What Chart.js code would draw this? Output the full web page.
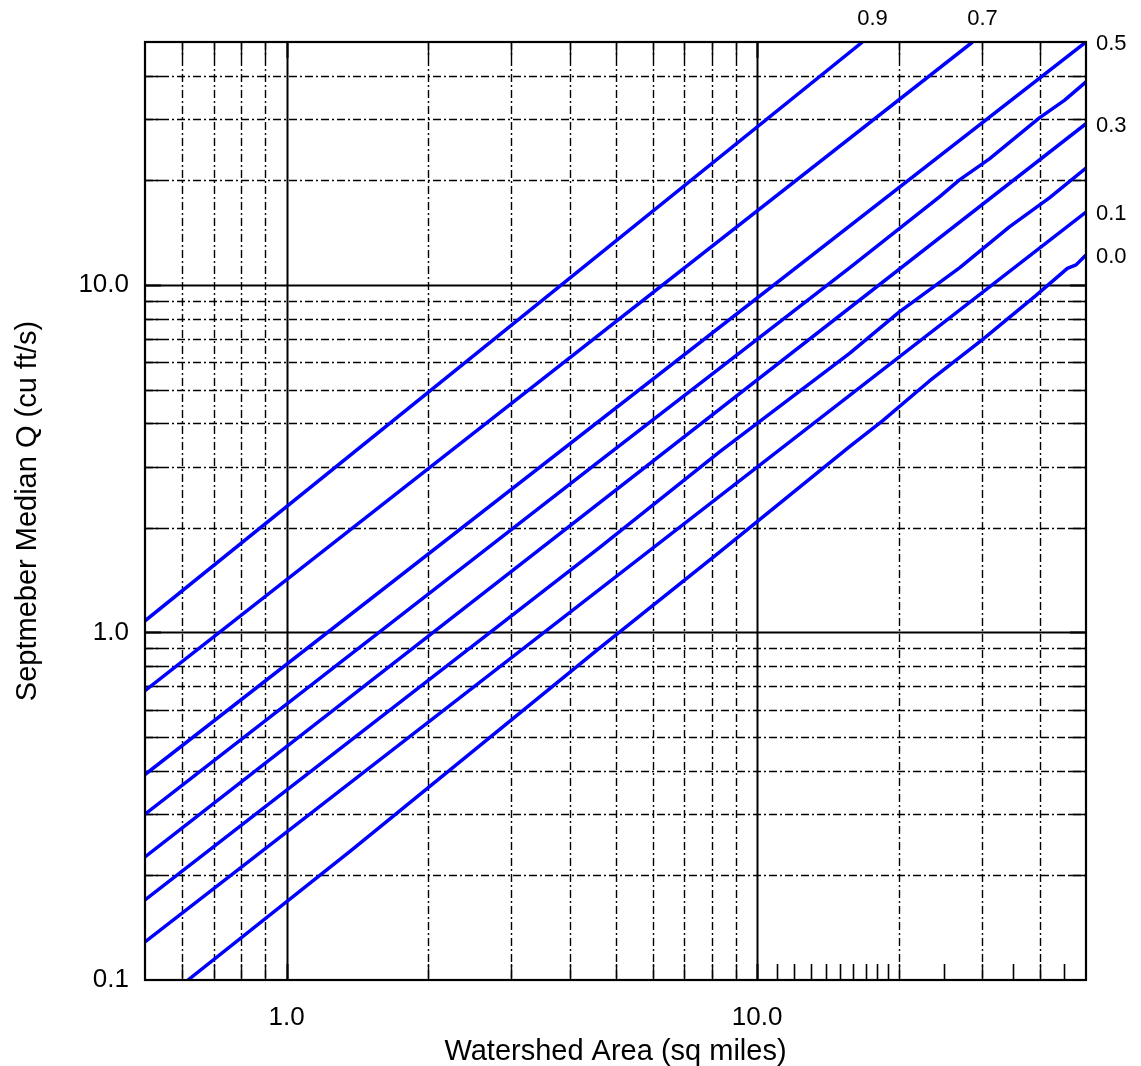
<!DOCTYPE html>
<html>
<head>
<meta charset="utf-8">
<script src="https://cdn.jsdelivr.net/npm/chart.js@4.4.1/dist/chart.umd.min.js"></script>
<style>
html,body{margin:0;padding:0;background:#fff;}
#wrap{width:1141px;height:1066px;position:relative;}
</style>
</head>
<body>
<div id="wrap"><canvas id="chart"></canvas></div>
<script>
// curves, [area sq mi, Q cu ft/s]
const curve09 = [[0.5, 1.08], [16.75, 50]];
const curve07 = [[0.5, 0.68], [28.7, 50]];
const curve05 = [[0.5, 0.39], [50, 50]];
const curve04 = [[0.5, 0.300], [4.63, 3.115], [8.32, 5.75], [15.72, 11.19], [24.41, 17.92],
	[26.92, 20.05], [31.17, 23.05], [39.8, 30.24], [44.98, 33.95], [50, 38.4]];
const curve03 = [[0.5, 0.226], [50, 29.1]];
const curve02 = [[0.5, 0.170], [4.63, 1.756], [8.32, 3.307], [15.72, 6.353], [20.06, 8.36],
	[26.92, 11.19], [34.37, 14.69], [41.8, 17.8], [50, 21.7]];
const curve01 = [[0.5, 0.1287], [50, 16.2]];
const curve00 = [[0.617, 0.1], [1.374, 0.2366], [4.63, 0.9024], [8.32, 1.704], [15.72, 3.425],
	[18.47, 4.061], [23.24, 5.292], [30.17, 6.97], [39.16, 9.328], [45.64, 11.156],
	[47.62, 11.42], [50, 12.2]];

const curves = [curve09, curve07, curve05, curve04, curve03, curve02, curve01, curve00];
const curveLabels = ['0.9', '0.7', '0.5', '', '0.3', '', '0.1', '0.0'];

// axes
const xMin = 0.5, xMax = 50, yMin = 0.1, yMax = 50;
const xLabelVals = [1, 10];
const yLabelVals = [0.1, 1, 10];
const xGridVals = [0.6, 0.7, 0.8, 0.9, 1, 2, 3, 4, 5, 6, 7, 8, 9, 10, 20, 30, 40];
const yGridVals = [0.2, 0.3, 0.4, 0.5, 0.6, 0.7, 0.8, 0.9, 1, 2, 3, 4, 5, 6, 7, 8, 9, 10, 20, 30, 40];
const decadeVals = [0.1, 1, 10];
const xMinorTicks = [11, 12, 13, 14, 15, 16, 17, 18, 19, 25, 35, 45];

const FONT = "'Liberation Sans', Arial, Helvetica, sans-serif";

let gridPlugin = {
	id: 'gridFrame',
	beforeDatasetsDraw(chart) {
		let ctx = chart.ctx, a = chart.chartArea;
		let xs = chart.scales.x, ys = chart.scales.y;
		let tl = 16;
		ctx.save();
		ctx.strokeStyle = '#000';
		// vertical grid lines
		xGridVals.forEach(function (v) {
			let px = Math.round(xs.getPixelForValue(v)) + 0.5;
			let major = decadeVals.indexOf(v) >= 0;
			ctx.lineWidth = major ? 2 : 1.4;
			ctx.setLineDash(major ? [] : [8, 3, 2, 3]);
			ctx.beginPath(); ctx.moveTo(px, a.top); ctx.lineTo(px, a.bottom); ctx.stroke();
			ctx.setLineDash([]);
			ctx.beginPath();
			ctx.moveTo(px, a.bottom); ctx.lineTo(px, a.bottom - tl);
			ctx.moveTo(px, a.top); ctx.lineTo(px, a.top + tl);
			ctx.stroke();
		});
		// horizontal grid lines
		yGridVals.forEach(function (v) {
			let py = Math.round(ys.getPixelForValue(v)) + 0.5;
			let major = decadeVals.indexOf(v) >= 0;
			ctx.lineWidth = major ? 2 : 1.4;
			ctx.setLineDash(major ? [] : [8, 3, 2, 3]);
			ctx.beginPath(); ctx.moveTo(a.left, py); ctx.lineTo(a.right, py); ctx.stroke();
			ctx.setLineDash([]);
			ctx.beginPath();
			ctx.moveTo(a.left, py); ctx.lineTo(a.left + tl, py);
			ctx.moveTo(a.right, py); ctx.lineTo(a.right - tl, py);
			ctx.stroke();
		});
		// minor ticks along the bottom
		ctx.lineWidth = 1.6;
		xMinorTicks.forEach(function (v) {
			let px = Math.round(xs.getPixelForValue(v)) + 0.5;
			ctx.beginPath(); ctx.moveTo(px, a.bottom); ctx.lineTo(px, a.bottom - tl); ctx.stroke();
		});
		ctx.restore();
	},
	afterDatasetsDraw(chart) {
		let ctx = chart.ctx, a = chart.chartArea;
		ctx.save();
		// frame
		ctx.strokeStyle = '#000';
		ctx.lineWidth = 2.2;
		ctx.strokeRect(a.left, a.top, a.right - a.left, a.bottom - a.top);
		// curve labels
		ctx.fillStyle = '#000';
		ctx.font = '22px ' + FONT;
		ctx.textBaseline = 'middle';
		chart.data.datasets.forEach(function (ds, i) {
			let txt = curveLabels[i];
			if (!txt) return;
			let pts = chart.getDatasetMeta(i).data;
			let p = pts[pts.length - 1];
			if (p.x >= a.right - 1) {
				ctx.textAlign = 'left';
				ctx.fillText(txt, a.right + 10, p.y + 2);
			} else {
				ctx.textAlign = 'center';
				ctx.fillText(txt, p.x + 10, a.top - 23);
			}
		});
		// axis titles
		ctx.font = '29px ' + FONT;
		ctx.textAlign = 'center';
		ctx.fillText('Watershed Area (sq miles)', (a.left + a.right) / 2, 1052);
		ctx.translate(28, (a.top + a.bottom) / 2);
		ctx.rotate(-Math.PI / 2);
		ctx.fillText('Septmeber Median Q (cu ft/s)', 0, 0);
		ctx.restore();
	}
};

function fmt(v) { return Number(v).toFixed(1); }

let datasets = curves.map(function (c, i) {
	return {
		label: curveLabels[i] || ('c' + i),
		data: c.map(function (p) { return { x: p[0], y: p[1] }; }),
		borderColor: '#0000ff',
		borderWidth: 3.5,
		borderJoinStyle: 'round',
		pointRadius: 0,
		tension: 0,
		fill: false
	};
});

let chart = new Chart(document.getElementById('chart'), {
	type: 'line',
	data: { datasets: datasets },
	plugins: [gridPlugin],
	options: {
		responsive: true,
		maintainAspectRatio: false,
		animation: false,
		layout: { padding: { left: 0, top: 42, right: 55, bottom: 0 } },
		plugins: { legend: { display: false }, tooltip: { enabled: false } },
		scales: {
			x: {
				type: 'logarithmic', min: xMin, max: xMax,
				afterBuildTicks: function (s) { s.ticks = xLabelVals.map(function (v) { return { value: v }; }); },
				afterFit: function (s) { s.height = 1066 - 980; },
				grid: { display: false, drawTicks: false },
				border: { display: false },
				ticks: { callback: fmt, color: '#000', font: { size: 26, family: FONT }, padding: 22, maxRotation: 0 }
			},
			y: {
				type: 'logarithmic', min: yMin, max: yMax,
				afterBuildTicks: function (s) { s.ticks = yLabelVals.map(function (v) { return { value: v }; }); },
				afterFit: function (s) { s.width = 145; },
				grid: { display: false, drawTicks: false },
				border: { display: false },
				ticks: { callback: fmt, color: '#000', font: { size: 26, family: FONT }, padding: 16 }
			}
		}
	}
});
</script>
</body>
</html>
